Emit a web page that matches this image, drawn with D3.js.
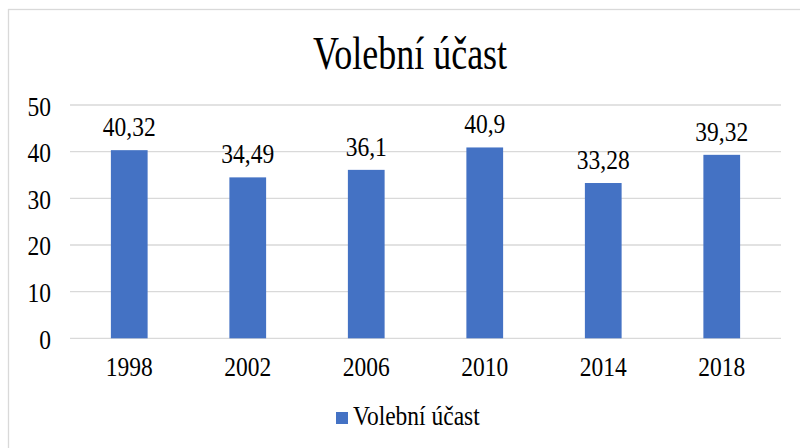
<!DOCTYPE html>
<html>
<head>
<meta charset="utf-8">
<script src="https://d3js.org/d3.v7.min.js"></script>
<style>
  body { margin: 0; background: #fff; }
</style>
</head>
<body>
<div id="chart"></div>
<script>
// Data
const years = ["1998", "2002", "2006", "2010", "2014", "2018"];
const turnout = [40.32, 34.49, 36.1, 40.9, 33.28, 39.32];
const yTicks = [0, 10, 20, 30, 40, 50];
const seriesName = "Volební účast";
const chartTitle = "Volební účast";

const FONT = "'Liberation Serif', 'Times New Roman', serif";
const FS = 23.5;     // label font size
const STRETCH = 1.19; // reference text is a bit taller than wide

const W = 800, H = 448;
const margin = { top: 105, right: 19, bottom: 109.7, left: 70 };
const plotW = W - margin.left - margin.right;
const plotH = H - margin.top - margin.bottom;

const svg = d3.select("#chart").append("svg")
    .attr("width", W)
    .attr("height", H)
    .style("font-family", FONT);

// outer chart border (runs off the right/bottom edge)
svg.append("rect")
    .attr("x", 8.5).attr("y", 9.5)
    .attr("width", W).attr("height", H)
    .attr("fill", "none")
    .attr("stroke", "#d9d9d9")
    .attr("stroke-width", 1.3);

function stretchedText(parent, x, y, str, size, k, anchor) {
    return parent.append("text")
        .attr("transform", `translate(${x},${y}) scale(1,${k})`)
        .attr("text-anchor", anchor)
        .style("font-family", FONT)
        .style("font-size", size + "px")
        .attr("fill", "#000")
        .text(str);
}

stretchedText(svg, 410, 69, chartTitle, 36, 1.27, "middle");

const g = svg.append("g")
    .attr("transform", `translate(${margin.left},${margin.top})`);

const x = d3.scaleBand()
    .domain(years)
    .range([0, plotW])
    .paddingInner(0.69)
    .paddingOuter(0.345);

const y = d3.scaleLinear()
    .domain([0, 50])
    .range([plotH, 0]);

// gridlines
g.append("g")
    .selectAll("line")
    .data(yTicks)
    .join("line")
    .attr("x1", 0).attr("x2", plotW)
    .attr("y1", d => y(d)).attr("y2", d => y(d))
    .attr("stroke", "#d9d9d9")
    .attr("stroke-width", 1.3);

// y axis labels
const yAxis = g.append("g")
    .call(d3.axisLeft(y).tickValues(yTicks).tickSize(0).tickPadding(19))
    .attr("font-family", null).attr("font-size", null);
yAxis.select(".domain").remove();
yAxis.selectAll("text")
    .attr("dy", null)
    .attr("y", 10 / STRETCH)
    .attr("transform", `scale(1,${STRETCH})`)
    .style("font-size", FS + "px")
    .attr("fill", "#000");

// x axis labels
const xAxis = g.append("g")
    .attr("transform", `translate(0,${plotH})`)
    .call(d3.axisBottom(x).tickSize(0))
    .attr("font-family", null).attr("font-size", null);
xAxis.select(".domain").remove();
xAxis.selectAll("text")
    .attr("dy", null)
    .attr("y", 37.7 / STRETCH)
    .attr("transform", `scale(1,${STRETCH})`)
    .style("font-size", FS + "px")
    .attr("fill", "#000");

// bars
g.selectAll(".bar")
    .data(turnout)
    .join("rect")
    .attr("class", "bar")
    .attr("x", (d, i) => x(years[i]))
    .attr("y", d => y(d))
    .attr("width", x.bandwidth())
    .attr("height", d => plotH - y(d))
    .attr("fill", "#4472c4");

// value labels
turnout.forEach((d, i) => {
    stretchedText(g, x(years[i]) + x.bandwidth() / 2, y(d) - 14,
        String(d).replace(".", ","), FS, STRETCH, "middle");
});

// legend
const legend = svg.append("g").attr("transform", "translate(336,412)");
legend.append("rect")
    .attr("width", 12).attr("height", 12)
    .attr("fill", "#4472c4");
stretchedText(legend, 17, 13, seriesName, FS, STRETCH, "start");
</script>
</body>
</html>
